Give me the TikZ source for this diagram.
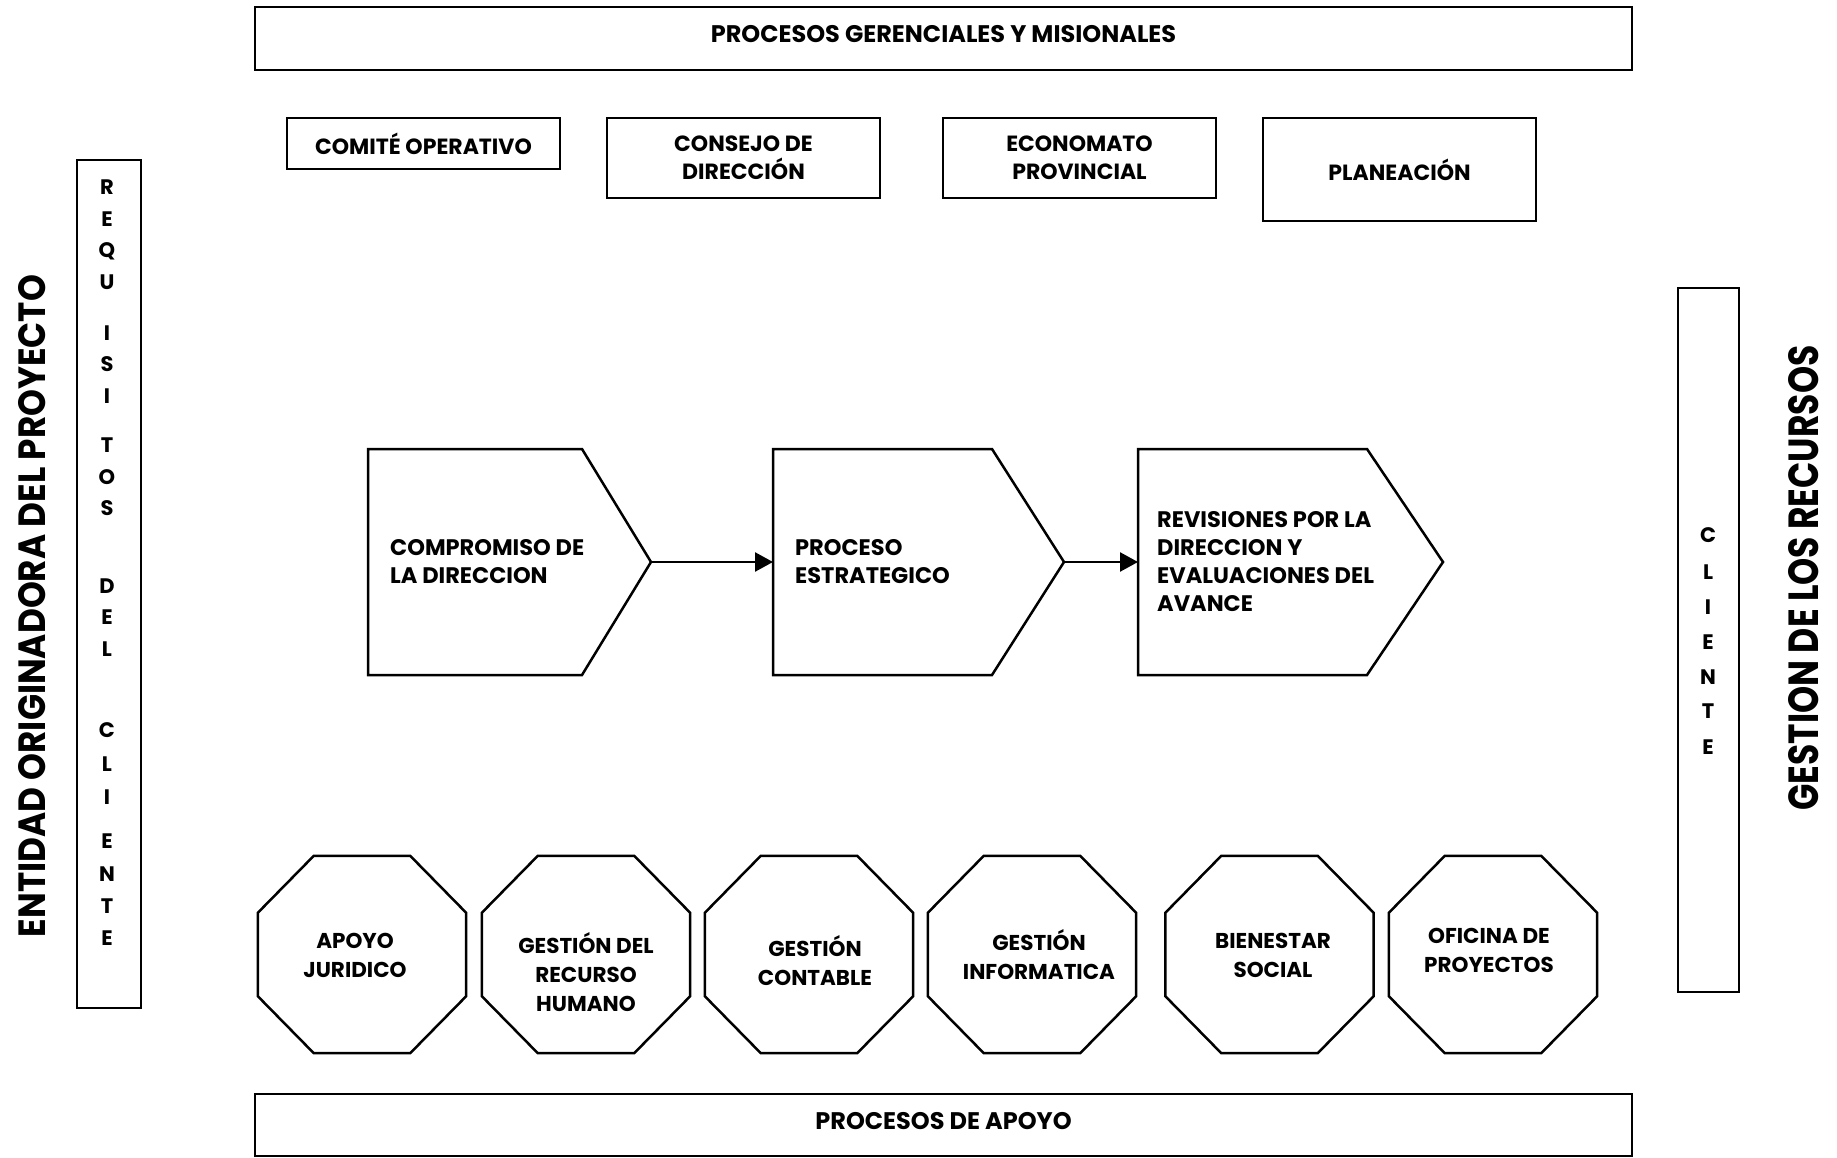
\documentclass[tikz,border=0pt]{standalone}
\usepackage{fontspec}
\usepackage{graphicx}
\setmainfont{Poppins}
\usetikzlibrary{arrows.meta}

\tikzset{
  frame/.style={draw, line width=2.5pt, rectangle, inner sep=0pt},
  blbl/.style={font=\bfseries\fontsize{24}{28}\selectfont, align=center, inner sep=0pt},
  lbl/.style={font=\bfseries\fontsize{22}{28}\selectfont, align=center, inner sep=0pt},
  plbl/.style={font=\bfseries\fontsize{22.5}{28}\selectfont, align=left, anchor=west, inner sep=0pt},
  olbl/.style={font=\bfseries\fontsize{21.5}{29}\selectfont, align=center},
  octo/.style={rectangle, minimum width=208pt, minimum height=197pt, inner sep=0pt},
  letter/.style={font=\bfseries\fontsize{21}{21}\selectfont, inner sep=0pt},
  flow/.style={line width=2.5pt, -{Triangle[length=18pt,width=19pt]}},
  outline/.style={draw, line width=2.5pt, line join=miter}
}

\begin{document}
\begin{tikzpicture}[x=1pt,y=-1pt]
\useasboundingbox (0,0) rectangle (1837,1158);

% top and bottom bands
\node[frame, minimum width=1377pt, minimum height=63pt] (gerenciales) at (943.5,38.5) {};
\node[blbl] (gerencialestxt) at (943.5,34.5) {PROCESOS GERENCIALES Y MISIONALES};
\node[frame, minimum width=1377pt, minimum height=62pt] (apoyo) at (943.5,1125) {};
\node[blbl] (apoyotxt) at (943.5,1121.5) {PROCESOS DE APOYO};

% management boxes
\node[frame, minimum width=273pt, minimum height=51pt] (comite) at (423.5,143.5) {};
\node[lbl] at (comite) {COMITÉ OPERATIVO};
\node[frame, minimum width=273pt, minimum height=80pt] (consejo) at (743.5,158) {};
\node[lbl] at (consejo) {CONSEJO DE\\DIRECCIÓN};
\node[frame, minimum width=273pt, minimum height=80pt] (economato) at (1079.5,158) {};
\node[lbl] at (economato) {ECONOMATO\\PROVINCIAL};
\node[frame, minimum width=273pt, minimum height=103pt] (planeacion) at (1399.5,169.5) {};
\node[lbl] at (planeacion) {PLANEACIÓN};

% side bars
\node[frame, minimum width=64pt, minimum height=848pt] (requisitos) at (109,584) {};
\foreach \ch/\yy in {R/187,E/219,Q/251,U/282,I/333,S/364,I/396,T/445,O/477,S/508,
                     D/586,E/617,L/649,C/730,L/764,I/797,E/841,N/874,T/906,E/938}
  \node[letter] at (107,\yy) {\ch};
\node[frame, minimum width=61pt, minimum height=704pt] (cliente) at (1708.5,640) {};
\foreach \ch/\yy in {C/535,L/572,I/607,E/642,N/677,T/711,E/747}
  \node[letter] at (1708,\yy) {\ch};

\node[rotate=90, inner sep=0pt] (entidad) at (32,606)
  {\resizebox{662pt}{27pt}{\bfseries ENTIDAD ORIGINADORA DEL PROYECTO}};
\node[rotate=90, inner sep=0pt] (recursos) at (1804,578)
  {\resizebox{465pt}{30pt}{\bfseries GESTION DE LOS RECURSOS}};

% strategic process chain
\foreach \n/\xl/\xs/\xt in {p1/368/582/651, p2/773/992/1064, p3/1138/1367/1443} {
  \draw[outline] (\xl,449) -- (\xs,449) -- (\xt,562) -- (\xs,675) -- (\xl,675) -- cycle;
  \coordinate (\n-in) at (\xl,562);
  \coordinate (\n-out) at (\xt,562);
}
\node[plbl] (compromiso) at (390,562) {COMPROMISO DE\\LA DIRECCION};
\node[plbl] (estrategico) at (795,562) {PROCESO\\ESTRATEGICO};
\node[plbl] (revisiones) at (1157,562) {REVISIONES POR LA\\DIRECCION Y\\EVALUACIONES DEL\\AVANCE};
\draw[flow] (p1-out) -- (p2-in);
\draw[flow] (p2-out) -- (p3-in);

% support processes: octagonal outlines around rectangular frames
\node[octo] (juridico) at (362,954.5) {};
\node[octo] (humano) at (586,954.5) {};
\node[octo] (contable) at (809,954.5) {};
\node[octo] (informatica) at (1032,954.5) {};
\node[octo] (bienestar) at (1269.5,954.5) {};
\node[octo] (oficina) at (1493,954.5) {};
\foreach \n in {juridico,humano,contable,informatica,bienestar,oficina}
  \draw[outline] ([xshift=56pt]\n.north west) -- ([xshift=-56pt]\n.north east)
    -- ([yshift=-57pt]\n.north east) -- ([yshift=57pt]\n.south east)
    -- ([xshift=-56pt]\n.south east) -- ([xshift=56pt]\n.south west)
    -- ([yshift=57pt]\n.south west) -- ([yshift=-57pt]\n.north west) -- cycle;
\node[olbl] (juridicotxt) at (355,955) {APOYO\\JURIDICO};
\node[olbl] (humanotxt) at (586,972) {GESTIÓN DEL\\RECURSO\\HUMANO};
\node[olbl] (contabletxt) at (815,961) {GESTIÓN\\CONTABLE};
\node[olbl] (informaticatxt) at (1039,955) {GESTIÓN\\INFORMATICA};
\node[olbl] (bienestartxt) at (1273,955) {BIENESTAR\\SOCIAL};
\node[olbl] (oficinatxt) at (1489,950) {OFICINA DE\\PROYECTOS};

\end{tikzpicture}
\end{document}
